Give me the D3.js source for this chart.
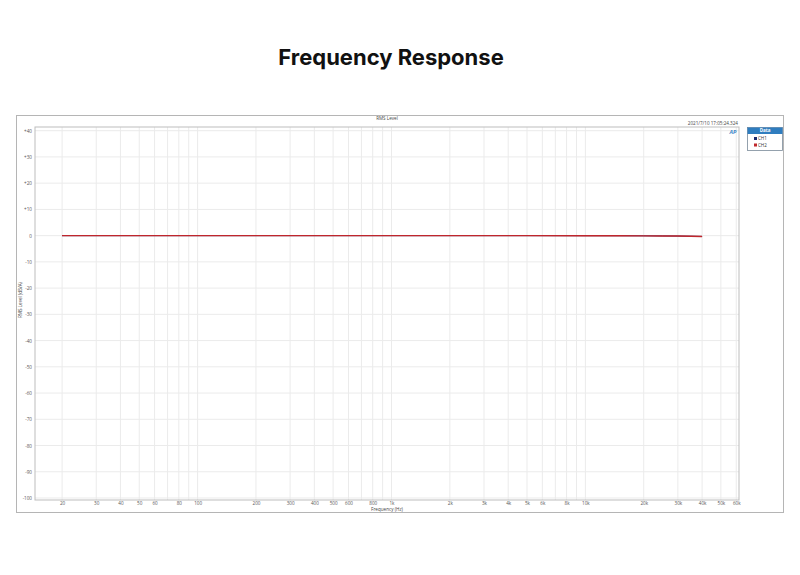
<!DOCTYPE html>
<html><head><meta charset="utf-8">
<script src="https://cdn.jsdelivr.net/npm/d3@7"></script>
<style>body{margin:0;background:#fff}svg{display:block}</style>
</head><body>
<svg id="c" width="800" height="575"></svg>
<script>
const freqs = [20, 50, 100, 500, 1000, 5000, 10000, 15000, 20000, 25000, 30000, 35000, 40000];
const ch1 = [0, 0, 0, 0, 0, 0, -0.02, -0.04, -0.07, -0.11, -0.16, -0.22, -0.3];
const ch2 = [0, 0, 0, 0, 0, 0, -0.02, -0.04, -0.07, -0.11, -0.16, -0.22, -0.3];
const xTickVals = [20,30,40,50,60,80,100,200,300,400,500,600,800,1000,2000,3000,4000,5000,6000,8000,10000,20000,30000,40000,50000,60000];
const xTickLabels = ["20","30","40","50","60","80","100","200","300","400","500","600","800","1k","2k","3k","4k","5k","6k","8k","10k","20k","30k","40k","50k","60k"];
const yTickVals = [40,30,20,10,0,-10,-20,-30,-40,-50,-60,-70,-80,-90,-100];
const yTickLabels = ["+40","+30","+20","+10","0","-10","-20","-30","-40","-50","-60","-70","-80","-90","-100"];

const svg = d3.select("#c");
const L=35, R=739, T=127, B=500;
const x = d3.scaleLog().domain([14.5, 62000]).range([L, R]);
const y = d3.scaleLinear().domain([-100, 40]).range([498, 130.7]);

svg.append("text").attr("x",391).attr("y",65).attr("text-anchor","middle")
  .attr("font-family","Inter, Lato, sans-serif").attr("font-weight","700").attr("font-size",22)
  .attr("fill","#111").text("Frequency Response");

// outer frame
svg.append("rect").attr("x",16.5).attr("y",115.5).attr("width",767).attr("height",397)
  .attr("fill","#fff").attr("stroke","#b5b5b5").attr("stroke-width",1);

// grid
const minor = [];
for (let d=10; d<=100000; d*=10) for (let m=1;m<10;m++){const v=d*m; if(v>=20 && v<=60000) minor.push(v);}
svg.append("g").selectAll("line").data(minor).join("line")
  .attr("x1",d=>x(d)).attr("x2",d=>x(d)).attr("y1",T).attr("y2",B)
  .attr("stroke","#ebebeb").attr("stroke-width",1);
svg.append("g").selectAll("line").data(yTickVals).join("line")
  .attr("x1",L).attr("x2",R).attr("y1",d=>y(d)).attr("y2",d=>y(d))
  .attr("stroke","#ebebeb").attr("stroke-width",1);

// plot frame
svg.append("rect").attr("x",L).attr("y",T).attr("width",R-L).attr("height",B-T)
  .attr("fill","none").attr("stroke","#bdbdbd").attr("stroke-width",1);

// axes
const xa = d3.axisBottom(x).tickValues(xTickVals).tickFormat((d,i)=>xTickLabels[i]).tickSize(0).tickPadding(2);
const gx = svg.append("g").attr("transform",`translate(0,${B})`).call(xa);
gx.select(".domain").remove();
gx.selectAll("text").attr("font-family","Open Sans, sans-serif").attr("font-size",4.6).attr("fill","#555");

const ya = d3.axisLeft(y).tickValues(yTickVals).tickFormat((d,i)=>yTickLabels[i]).tickSize(0).tickPadding(3);
const gy = svg.append("g").attr("transform",`translate(${L},0)`).call(ya);
gy.select(".domain").remove();
gy.selectAll("text").attr("font-family","Open Sans, sans-serif").attr("font-size",4.6).attr("fill","#555");

// labels
const small = (xx,yy,t,anchor="middle")=>svg.append("text").attr("x",xx).attr("y",yy).attr("text-anchor",anchor)
  .attr("font-family","Open Sans, sans-serif").attr("font-size",4.6).attr("fill","#444").text(t);
small(387,119.5,"RMS Level");
small(738,124.5,"2021/7/10 17:05:24.324","end");
small(387,511.3,"Frequency (Hz)");
svg.append("text").attr("transform","translate(22,300) rotate(-90)").attr("text-anchor","middle")
  .attr("font-family","Open Sans, sans-serif").attr("font-size",4.6).attr("fill","#444").text("RMS Level (dB/A)");
svg.append("text").attr("x",733).attr("y",133.5).attr("text-anchor","middle")
  .attr("font-family","Open Sans, sans-serif").attr("font-size",5.5).attr("font-weight","700").attr("font-style","italic")
  .attr("fill","#3a86c8").text("AP");

// lines
const line = d3.line().x((d,i)=>x(freqs[i])).y(d=>y(d));
svg.append("path").datum(ch1).attr("d",line).attr("fill","none").attr("stroke","#1c2a6e").attr("stroke-width",1.0);
svg.append("path").datum(ch2).attr("d",line).attr("fill","none").attr("stroke","#c0262c").attr("stroke-width",1.4);

// legend
const lg = svg.append("g");
lg.append("rect").attr("x",747.5).attr("y",127.5).attr("width",35).attr("height",23).attr("fill","#fff").attr("stroke","#7a8a99").attr("stroke-width",0.8);
lg.append("rect").attr("x",747.5).attr("y",127.5).attr("width",35).attr("height",6.5).attr("fill","#2f7dbf");
lg.append("text").attr("x",765).attr("y",132.4).attr("text-anchor","middle").attr("font-family","Open Sans, sans-serif")
  .attr("font-size",4.5).attr("font-weight","700").attr("fill","#fff").text("Data");
const series = [["CH1","#1c2a6e"],["CH2","#c0282d"]];
series.forEach((s,i)=>{
  lg.append("rect").attr("x",754).attr("y",137+i*6.5).attr("width",3).attr("height",3).attr("fill",s[1]);
  lg.append("text").attr("x",758).attr("y",140+i*6.5).attr("font-family","Open Sans, sans-serif").attr("font-size",4.5).attr("fill","#333").text(s[0]);
});
</script>
</body></html>
